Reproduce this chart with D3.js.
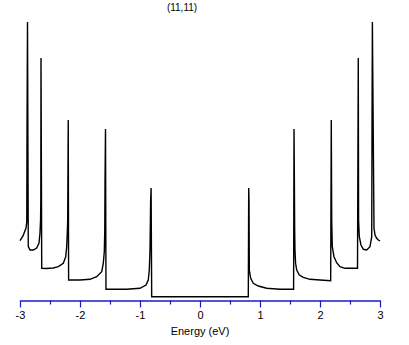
<!DOCTYPE html>
<html>
<head>
<meta charset="utf-8">
<script src="https://cdn.jsdelivr.net/npm/d3@7"></script>
<style>
body { margin: 0; background: #fff; }
text { font-family: "Liberation Sans", Arial, sans-serif; }
</style>
</head>
<body>
<svg id="chart"></svg>
<script>
var WIDTH = 409, HEIGHT = 345;
var TITLE = "(11,11)";
var XLABEL = "Energy (eV)";
var majorTicks = [-3, -2, -1, 0, 1, 2, 3];
var minorTicks = [-2.5, -1.5, -0.5, 0.5, 1.5, 2.5];

// density of states (arbitrary units)
var energy = [
	-3.0, -2.95, -2.9, -2.887, -2.883, -2.875, -2.862, -2.833, -2.778, -2.722, -2.683, -2.667, -2.657, -2.653, -2.65,
	-2.638, -2.567, -2.445, -2.362, -2.278, -2.238, -2.222, -2.212, -2.205, -2.196,
	-2.19, -2.0, -1.833, -1.722, -1.638, -1.612, -1.595, -1.587, -1.583, -1.575,
	-1.567, -1.222, -1.0, -0.9, -0.862, -0.845, -0.833, -0.823, -0.815,
	-0.805, 0.805,
	0.812, 0.817, 0.822, 0.845, 0.888, 0.972, 1.112, 1.333, 1.56,
	1.567, 1.573, 1.578, 1.583, 1.593, 1.612, 1.655, 1.722, 1.833, 2.0, 2.178,
	2.188, 2.195, 2.205, 2.233, 2.278, 2.333, 2.417, 2.625,
	2.638, 2.643, 2.655, 2.683, 2.722, 2.778, 2.833, 2.862, 2.867,
	2.873, 2.9, 2.917, 2.945, 2.972, 3.0
];
var dos = [
	5.93, 6.4, 7.2, 7.8, 17.0, 27.8, 5.33, 5.0, 5.0, 5.2, 5.7, 6.7, 8.0, 10.0, 24.2,
	3.17, 3.15, 3.2, 3.33, 3.67, 4.33, 5.33, 6.7, 8.0, 18.0,
	2.0, 2.0, 2.07, 2.33, 2.83, 3.67, 4.83, 7.0, 11.8, 17.1,
	1.07, 1.07, 1.17, 1.5, 2.0, 3.0, 5.0, 9.8, 11.2,
	0.33, 0.33,
	11.2, 9.8, 3.0, 2.17, 1.67, 1.4, 1.17, 1.07, 1.07,
	17.1, 11.8, 7.0, 5.0, 3.67, 3.0, 2.5, 2.27, 2.07, 2.0, 1.93,
	18.0, 8.0, 5.33, 4.33, 3.73, 3.33, 3.17, 3.17,
	24.2, 8.0, 6.33, 5.5, 5.07, 5.0, 5.33, 6.33, 17.0,
	27.8, 7.17, 6.5, 6.17, 6.0, 5.9
];

var svg = d3.select("#chart").attr("width", WIDTH).attr("height", HEIGHT);

var x = d3.scaleLinear().domain([-3, 3]).range([20, 380]);
var y = d3.scaleLinear().domain([0, 28]).range([300, 20]);

var pts = energy.map((e, i) => [e, dos[i]]);
var line = d3.line().x(d => x(d[0])).y(d => y(d[1]));

svg.append("path").datum(pts)
	.attr("d", line)
	.attr("fill", "none")
	.attr("stroke", "#000")
	.attr("stroke-width", 1.4)
	.attr("stroke-linejoin", "miter");

var axisY = 300.5;
var gMinor = svg.append("g").attr("transform", "translate(0," + axisY + ")")
	.call(d3.axisBottom(x).tickValues(minorTicks).tickSize(4).tickSizeOuter(0).tickFormat(""));
var gMajor = svg.append("g").attr("transform", "translate(0," + axisY + ")")
	.call(d3.axisBottom(x).tickValues(majorTicks).tickSize(7).tickSizeOuter(0).tickPadding(4).tickFormat(d => String(d)));

svg.selectAll(".domain").attr("stroke", "#1a1ac8").attr("stroke-width", 1.2);
svg.selectAll(".tick line").attr("stroke", "#1a1ac8").attr("stroke-width", 1.2);
gMajor.selectAll("text").attr("fill", "#000").style("font-size", "11px").style("font-family", "Liberation Sans, Arial, sans-serif");

svg.append("text").attr("x", 200).attr("y", 335).attr("text-anchor", "middle")
	.style("font-size", "11px").text(XLABEL);
svg.append("text").attr("x", 182).attr("y", 10.5).attr("text-anchor", "middle")
	.style("font-size", "10px").text(TITLE);
</script>
</body>
</html>
